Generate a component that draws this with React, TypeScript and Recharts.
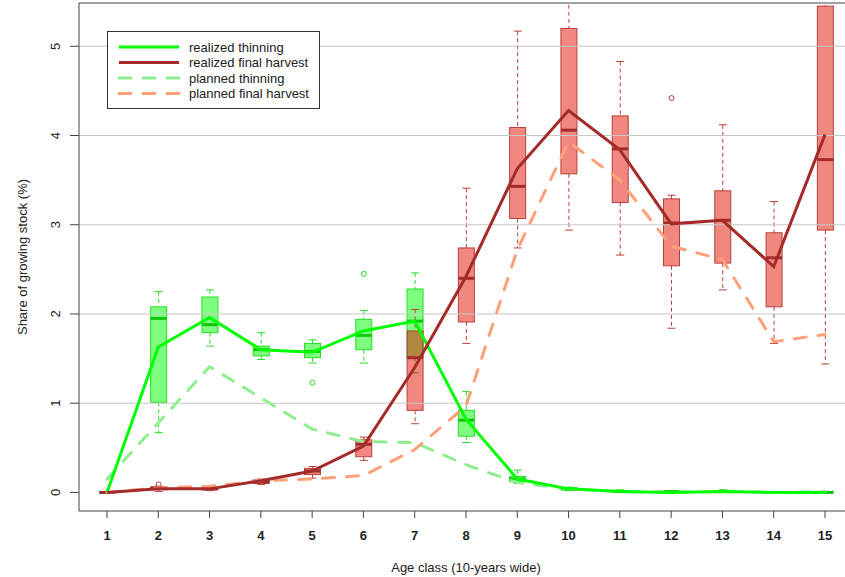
import { Bar, ComposedChart, Line, ReferenceLine, XAxis, YAxis } from 'recharts';

// age classes (10 years wide)
const ageClasses = [1, 2, 3, 4, 5, 6, 7, 8, 9, 10, 11, 12, 13, 14, 15];

// box statistics, thinning (%)
const thinLow = [0, 0.67, 1.64, 1.49, 1.45, 1.45, 1.34, 0.56, 0.1, 0.02, 0, 0, 0, 0, 0];
const thinQ1 = [0, 1.01, 1.79, 1.53, 1.51, 1.6, 1.51, 0.63, 0.12, 0.03, 0.01, 0, 0.01, 0, 0];
const thinMed = [0, 1.95, 1.88, 1.6, 1.58, 1.76, 1.92, 0.81, 0.15, 0.04, 0.01, 0.01, 0.01, 0, 0];
const thinQ3 = [0, 2.08, 2.19, 1.64, 1.67, 1.94, 2.28, 0.92, 0.18, 0.05, 0.02, 0.01, 0.02, 0.01, 0.01];
const thinHigh = [0, 2.25, 2.27, 1.79, 1.71, 2.04, 2.46, 1.13, 0.25, 0.06, 0.03, 0.02, 0.03, 0.01, 0.01];
const thinOutliers = [[], [], [], [], [1.23], [2.45], [], [], [], [], [], [], [], [], []];

// box statistics, final harvest (%)
const finalLow = [0, 0.01, 0.02, 0.09, 0.16, 0.36, 0.77, 1.67, 2.74, 2.94, 2.66, 1.84, 2.27, 1.67, 1.44];
const finalQ1 = [0, 0.03, 0.03, 0.1, 0.2, 0.4, 0.92, 1.91, 3.07, 3.57, 3.25, 2.54, 2.57, 2.08, 2.94];
const finalMed = [0, 0.05, 0.04, 0.12, 0.24, 0.54, 1.51, 2.4, 3.43, 4.06, 3.85, 3.02, 3.05, 2.63, 3.73];
const finalQ3 = [0, 0.06, 0.05, 0.14, 0.27, 0.59, 1.81, 2.74, 4.09, 5.2, 4.22, 3.29, 3.38, 2.91, 5.45];
const finalHigh = [0, 0.07, 0.06, 0.15, 0.29, 0.62, 2.05, 3.41, 5.17, 5.7, 4.83, 3.33, 4.12, 3.26, 5.7];
const finalOutliers = [[], [0.09], [], [], [], [], [], [], [], [], [], [4.42], [], [], []];

// lines
const realizedThinning = [0, 1.63, 1.96, 1.6, 1.57, 1.81, 1.92, 0.82, 0.15, 0.04, 0.01, 0, 0.01, 0, 0];
const realizedFinal = [0, 0.04, 0.04, 0.13, 0.24, 0.52, 1.4, 2.42, 3.63, 4.28, 3.84, 3.01, 3.05, 2.53, 4.01];
const plannedThinning = [0.15, 0.78, 1.41, 1.06, 0.71, 0.57, 0.56, 0.31, 0.11, 0.04, 0.01, 0, 0.01, 0, 0.01];
const plannedFinal = [0, 0.05, 0.07, 0.13, 0.15, 0.19, 0.48, 0.97, 2.72, 3.93, 3.5, 2.76, 2.61, 1.69, 1.77];

const yTicks = [0, 1, 2, 3, 4, 5];
const gridY = [1, 2, 3, 4, 5];
const yDomain = [-0.208, 5.485];
const xDomain = [0.454, 15.546];

const data = ageClasses.map((cls, i) => ({
    cls,
    unit: [0, 1],
    realizedThinning: realizedThinning[i],
    realizedFinal: realizedFinal[i],
    plannedThinning: plannedThinning[i],
    plannedFinal: plannedFinal[i],
    thin: { lo: thinLow[i], q1: thinQ1[i], med: thinMed[i], q3: thinQ3[i], hi: thinHigh[i], out: thinOutliers[i] },
    final: { lo: finalLow[i], q1: finalQ1[i], med: finalMed[i], q3: finalQ3[i], hi: finalHigh[i], out: finalOutliers[i] },
}));

const thinStyle = { fill: 'rgba(0,255,0,0.5)', stroke: '#22e022', median: '#10c810' };
const finalStyle = { fill: 'rgba(225,17,0,0.5)', stroke: '#b8403c', median: '#a52a2a' };

const drawBox = (s: any, st: any, cx: number, py: (v: number) => number, key: string) => (
    <g key={key}>
        <line x1={cx} x2={cx} y1={py(s.hi)} y2={py(s.q3)} stroke={st.stroke} strokeDasharray="4 3" />
        <line x1={cx} x2={cx} y1={py(s.q1)} y2={py(s.lo)} stroke={st.stroke} strokeDasharray="4 3" />
        <line x1={cx - 4} x2={cx + 4} y1={py(s.hi)} y2={py(s.hi)} stroke={st.stroke} />
        <line x1={cx - 4} x2={cx + 4} y1={py(s.lo)} y2={py(s.lo)} stroke={st.stroke} />
        <rect x={cx - 8} y={py(s.q3)} width={16} height={py(s.q1) - py(s.q3)} fill={st.fill} stroke={st.stroke} />
        <line x1={cx - 8} x2={cx + 8} y1={py(s.med)} y2={py(s.med)} stroke={st.median} strokeWidth={3} />
        {s.out.map((v: number, j: number) => (
            <circle key={j} cx={cx} cy={py(v)} r={2.5} fill="none" stroke={st.stroke} />
        ))}
    </g>
);

// the bar spans 0..1, so its geometry gives the y scale for the box stats
const BoxShape = (props: any) => {
    const { x, y, width, height, payload } = props;
    if (payload == null || height == null) return null;
    const top = Math.min(y, y + height);
    const ppu = Math.abs(height);
    const base = top + ppu;
    const cx = x + width / 2;
    const py = (v: number) => base - v * ppu;
    return (
        <g>
            {drawBox(payload.thin, thinStyle, cx, py, 't')}
            {drawBox(payload.final, finalStyle, cx, py, 'f')}
        </g>
    );
};

const YTick = ({ x, y, payload }: any) => (
    <text x={x - 8} y={y} transform={`rotate(-90, ${x - 8}, ${y})`} textAnchor="middle" fontSize={13} fill="#222">
        {payload.value}
    </text>
);

const XTick = ({ x, y, payload }: any) => (
    <text x={x} y={y} dy="0.71em" textAnchor="middle" fontSize={13} fontWeight="bold" fill="#222">
        {payload.value}
    </text>
);

const XLabel = ({ viewBox }: any) => (
    <text x={viewBox.x + viewBox.width / 2} y={viewBox.y + 61} textAnchor="middle" fontSize={13} fill="#222">
        Age class (10-years wide)
    </text>
);

const YLabel = ({ viewBox }: any) => {
    const lx = viewBox.x + 27;
    const ly = viewBox.y + viewBox.height / 2;
    return (
        <text x={lx} y={ly} transform={`rotate(-90, ${lx}, ${ly})`} textAnchor="middle" fontSize={13} fill="#222">
            Share of growing stock (%)
        </text>
    );
};

const legendItems = [
    { label: 'realized thinning', color: '#00ff00', dash: undefined },
    { label: 'realized final harvest', color: '#a52a2a', dash: undefined },
    { label: 'planned thinning', color: '#90ee90', dash: '12 12' },
    { label: 'planned final harvest', color: '#ffa07a', dash: '12 12' },
];

const LegendBox = () => (
    <div
        style={{
            position: 'absolute',
            left: 107,
            top: 31,
            width: 213,
            height: 78,
            boxSizing: 'border-box',
            border: '1px solid #333',
            background: 'white',
        }}
    >
        <svg width={211} height={76}>
            {legendItems.map((it, i) => {
                const cy = 15 + i * 15.5;
                return (
                    <g key={it.label}>
                        <line
                            x1={11}
                            x2={71}
                            y1={cy}
                            y2={cy}
                            stroke={it.color}
                            strokeWidth={3}
                            strokeDasharray={it.dash}
                            strokeLinecap={it.dash ? 'round' : 'butt'}
                        />
                        <text x={81} y={cy} dominantBaseline="central" fontSize={13} fill="#222">
                            {it.label}
                        </text>
                    </g>
                );
            })}
        </svg>
    </div>
);

const App = () => {
    return (
        <div
            style={{
                position: 'absolute',
                left: 0,
                top: 0,
                width: 845,
                height: 577,
                overflow: 'hidden',
                background: 'white',
                fontFamily: '"Liberation Sans", Arial, sans-serif',
            }}
        >
            <ComposedChart width={870} height={577} data={data} margin={{ top: 3, right: 17, bottom: 0, left: 0 }}>
                {gridY.map((v) => (
                    <ReferenceLine key={v} y={v} stroke="#c8c8c8" />
                ))}
                <XAxis
                    dataKey="cls"
                    type="number"
                    domain={xDomain}
                    ticks={ageClasses}
                    interval={0}
                    allowDataOverflow
                    height={66}
                    tickSize={7}
                    tickMargin={13}
                    tick={<XTick />}
                    stroke="#444"
                    label={<XLabel />}
                />
                <YAxis
                    type="number"
                    domain={yDomain}
                    ticks={yTicks}
                    interval={0}
                    allowDataOverflow
                    width={79}
                    tickSize={9}
                    tick={<YTick />}
                    stroke="#444"
                    label={<YLabel />}
                />
                <ReferenceLine y={yDomain[1]} stroke="#444" ifOverflow="visible" />
                <Bar dataKey="unit" barSize={16} shape={(p: any) => <BoxShape {...p} />} isAnimationActive={false} />
                <Line
                    dataKey="plannedThinning"
                    stroke="#90ee90"
                    strokeWidth={3}
                    strokeDasharray="12 12"
                    strokeLinecap="round"
                    dot={false}
                    isAnimationActive={false}
                />
                <Line
                    dataKey="plannedFinal"
                    stroke="#ffa07a"
                    strokeWidth={3}
                    strokeDasharray="12 12"
                    strokeLinecap="round"
                    dot={false}
                    isAnimationActive={false}
                />
                <Line dataKey="realizedThinning" stroke="#00ff00" strokeWidth={3} dot={false} isAnimationActive={false} />
                <Line dataKey="realizedFinal" stroke="#a52a2a" strokeWidth={3} dot={false} isAnimationActive={false} />
            </ComposedChart>
            <LegendBox />
        </div>
    );
};

export default App;
